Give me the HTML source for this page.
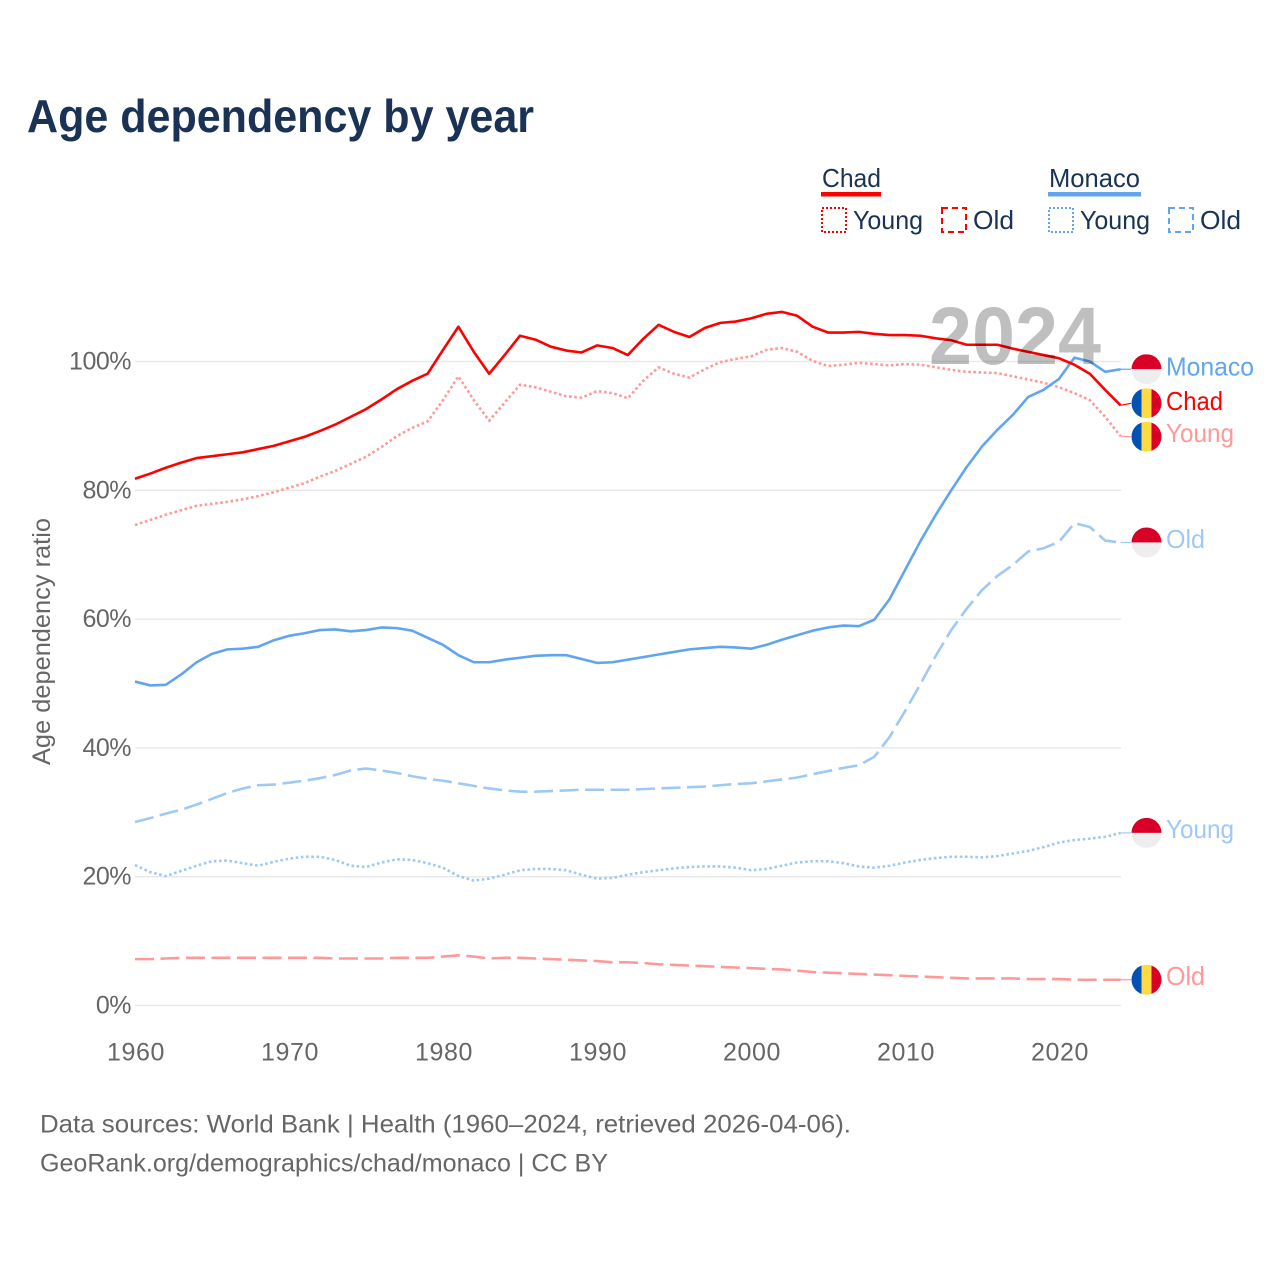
<!DOCTYPE html>
<html lang="en">
<head>
<meta charset="utf-8">
<title>Age dependency by year</title>
<style>
html,body{margin:0;padding:0;background:#fff;}
svg{display:block;font-family:"Liberation Sans",sans-serif;}
.navy{fill:#1a3254;}
.grey{fill:#666;}
</style>
</head>
<body>
<svg id="chart" xmlns="http://www.w3.org/2000/svg" width="1280" height="1280" viewBox="0 0 1280 1280">
  <defs>
    <clipPath id="flag-clip"><circle cx="0" cy="0" r="15"></circle></clipPath>
  </defs>
  <rect width="1280" height="1280" fill="#fff"></rect>
  <text x="27" y="132" font-size="46" font-weight="700" class="navy" textLength="507" lengthAdjust="spacingAndGlyphs">Age dependency by year</text>

  <g>
    <g>
      <text x="822" y="187" font-size="26" class="navy" textLength="59" lengthAdjust="spacingAndGlyphs">Chad</text>
      <rect x="821" y="192" width="60" height="4.5" fill="#ff0000"></rect>
    </g>
    <g>
      <rect x="822" y="208" width="24" height="24" fill="none" stroke="#ff0000" stroke-width="2" stroke-dasharray="2 2"></rect>
      <text x="853" y="229" font-size="26" class="navy" textLength="70" lengthAdjust="spacingAndGlyphs">Young</text>
    </g>
    <g>
      <rect x="942" y="208" width="24" height="24" fill="none" stroke="#ff0000" stroke-width="2" stroke-dasharray="6 4"></rect>
      <text x="973" y="229" font-size="26" class="navy" textLength="41" lengthAdjust="spacingAndGlyphs">Old</text>
    </g>
    <g>
      <text x="1049" y="187" font-size="26" class="navy" textLength="91" lengthAdjust="spacingAndGlyphs">Monaco</text>
      <rect x="1048" y="192" width="93" height="4.5" fill="#60a5ee"></rect>
    </g>
    <g>
      <rect x="1049" y="208" width="24" height="24" fill="none" stroke="#60a5ee" stroke-width="2" stroke-dasharray="2 2"></rect>
      <text x="1080" y="229" font-size="26" class="navy" textLength="70" lengthAdjust="spacingAndGlyphs">Young</text>
    </g>
    <g>
      <rect x="1169" y="208" width="24" height="24" fill="none" stroke="#60a5ee" stroke-width="2" stroke-dasharray="6 4"></rect>
      <text x="1200" y="229" font-size="26" class="navy" textLength="41" lengthAdjust="spacingAndGlyphs">Old</text>
    </g>
  </g>

  <g id="grid"></g>
  <g id="yticks"></g>
  <g id="xticks"></g>
  <text transform="translate(50,641.5) rotate(-90)" text-anchor="middle" font-size="25" class="grey" textLength="247" lengthAdjust="spacingAndGlyphs">Age dependency ratio</text>
  <g id="series"></g>
  <text x="929" y="364" font-size="82" font-weight="700" fill="#000" fill-opacity="0.25" textLength="172" lengthAdjust="spacingAndGlyphs">2024</text>
  <g id="endlabels"></g>

  <text x="40" y="1132.5" font-size="25" class="grey" textLength="811" lengthAdjust="spacingAndGlyphs">Data sources: World Bank | Health (1960–2024, retrieved 2026-04-06).</text>
  <text x="40" y="1171.5" font-size="25" class="grey" textLength="568" lengthAdjust="spacingAndGlyphs">GeoRank.org/demographics/chad/monaco | CC BY</text>
</svg>
<script>
const years = [
  1960,1961,1962,1963,1964,1965,1966,1967,1968,1969,
  1970,1971,1972,1973,1974,1975,1976,1977,1978,1979,
  1980,1981,1982,1983,1984,1985,1986,1987,1988,1989,
  1990,1991,1992,1993,1994,1995,1996,1997,1998,1999,
  2000,2001,2002,2003,2004,2005,2006,2007,2008,2009,
  2010,2011,2012,2013,2014,2015,2016,2017,2018,2019,
  2020,2021,2022,2023,2024
];
const chadTotal = [
  81.8,82.6,83.5,84.3,85.0,85.3,85.6,85.9,86.4,86.9,
  87.6,88.3,89.2,90.2,91.4,92.6,94.1,95.7,97.0,98.1,
  101.8,105.4,101.5,98.1,101.0,104.0,103.4,102.3,101.7,101.4,
  102.5,102.1,101.0,103.5,105.7,104.6,103.8,105.2,106.0,106.2,
  106.7,107.4,107.7,107.1,105.4,104.5,104.5,104.6,104.3,104.1,
  104.1,104.0,103.6,103.3,102.6,102.6,102.6,102.0,101.5,101.0,
  100.5,99.5,98.1,95.6,93.2
];
const chadYoung = [
  74.6,75.4,76.2,76.9,77.6,77.9,78.2,78.6,79.1,79.7,
  80.4,81.1,82.1,83.0,84.1,85.2,86.7,88.4,89.7,90.7,
  94.0,97.7,94.0,90.8,93.6,96.4,96.0,95.3,94.6,94.4,
  95.4,95.1,94.3,97.0,99.1,98.1,97.5,98.8,99.9,100.4,
  100.8,101.8,102.1,101.5,100.1,99.3,99.5,99.8,99.6,99.4,
  99.6,99.5,99.1,98.7,98.4,98.3,98.2,97.7,97.2,96.7,
  96.0,95.1,94.0,91.4,88.4
];
const chadOld = [
  7.2,7.2,7.3,7.4,7.4,7.4,7.4,7.4,7.4,7.4,
  7.4,7.4,7.4,7.3,7.3,7.3,7.3,7.4,7.4,7.4,
  7.6,7.8,7.6,7.3,7.4,7.4,7.3,7.2,7.1,7.0,
  6.9,6.7,6.7,6.6,6.4,6.3,6.2,6.1,6.0,5.9,
  5.8,5.7,5.6,5.4,5.2,5.1,5.0,4.9,4.8,4.7,
  4.6,4.5,4.4,4.3,4.2,4.2,4.2,4.2,4.1,4.1,
  4.1,4.0,4.0,4.0,4.0
];
const monacoTotal = [
  50.3,49.7,49.8,51.4,53.3,54.6,55.3,55.4,55.7,56.7,
  57.4,57.8,58.3,58.4,58.1,58.3,58.7,58.6,58.2,57.1,
  56.0,54.4,53.3,53.3,53.7,54.0,54.3,54.4,54.4,53.8,
  53.2,53.3,53.7,54.1,54.5,54.9,55.3,55.5,55.7,55.6,
  55.4,56.0,56.8,57.5,58.2,58.7,59.0,58.9,59.9,63.1,
  67.6,72.1,76.2,80.0,83.6,86.8,89.4,91.7,94.5,95.6,
  97.3,100.6,100.0,98.4,98.8
];
const monacoYoung = [
  21.8,20.7,20.1,20.9,21.7,22.4,22.5,22.1,21.7,22.3,
  22.8,23.1,23.1,22.6,21.7,21.5,22.2,22.7,22.6,22.1,
  21.4,20.1,19.4,19.7,20.3,21.0,21.2,21.2,21.0,20.3,
  19.7,19.8,20.3,20.7,21.0,21.3,21.5,21.6,21.6,21.4,
  21.0,21.2,21.7,22.2,22.4,22.4,22.1,21.6,21.4,21.7,
  22.2,22.6,22.9,23.1,23.1,23.0,23.2,23.6,24.0,24.6,
  25.3,25.7,25.9,26.2,26.8
];
const monacoOld = [
  28.5,29.1,29.8,30.4,31.2,32.1,33.0,33.7,34.2,34.3,
  34.6,34.9,35.3,35.8,36.5,36.8,36.5,36.1,35.6,35.2,
  34.9,34.5,34.1,33.7,33.4,33.2,33.2,33.3,33.4,33.5,
  33.5,33.5,33.5,33.6,33.7,33.8,33.9,34.0,34.2,34.4,
  34.5,34.8,35.1,35.4,35.9,36.4,36.9,37.3,38.6,41.7,
  45.7,49.9,54.3,58.3,61.6,64.5,66.7,68.4,70.5,71.0,
  72.0,74.9,74.3,72.2,71.9
];
const yTickValues = [0,20,40,60,80,100];
const yTickLabels = ["0%","20%","40%","60%","80%","100%"];
const xTickValues = [1960,1970,1980,1990,2000,2010,2020];
const xTickLabels = ["1960","1970","1980","1990","2000","2010","2020"];

const NS = "http://www.w3.org/2000/svg";
function x(year){ return 135 + (year - 1960) * 15.4; }
function y(value){ return 1005.5 - value * 6.44; }
function make(tag, attrs, parent){
  const el = document.createElementNS(NS, tag);
  for (const k in attrs) el.setAttribute(k, attrs[k]);
  parent.appendChild(el);
  return el;
}

const grid = document.getElementById("grid");
const yticks = document.getElementById("yticks");
yTickValues.forEach(function(v, i){
  const line = make("line", {x1:135, x2:1121, y1:y(v), y2:y(v), stroke:"#e9e9e9", "stroke-width":1.5}, grid);
  
  
  const t = make("text", {x:131, y:y(v) + 8, "text-anchor":"end", "font-size":25, fill:"#666", "letter-spacing":"-0.5"}, yticks);
  t.textContent = yTickLabels[i];
  
  
});

const xticks = document.getElementById("xticks");
xTickValues.forEach(function(v, i){
  const t = make("text", {x:x(v) + 1, y:1060.5, "text-anchor":"middle", "font-size":25, fill:"#666", "letter-spacing":"0.6"}, xticks);
  t.textContent = xTickLabels[i];
  
  
});

const SOLID = "none", DOT = "2.6 2.6", DASH = "19 6.5";
const RED = "#ff0000", PINK = "#ff9999", BLUE = "#60a5ee", SKY = "#9fc9f5";
const seriesList = [
  {id:"monaco-old", values:monacoOld, color:SKY, dash:DASH, label:"Old", width:39, flag:"monaco", dodge:0, labelShift:5.5},
  {id:"monaco-young", values:monacoYoung, color:SKY, dash:DOT, label:"Young", width:68, flag:"monaco", dodge:0, labelShift:5},
  {id:"chad-old", values:chadOld, color:PINK, dash:DASH, label:"Old", width:39, flag:"chad", dodge:0, labelShift:5.5},
  {id:"chad-young", values:chadYoung, color:PINK, dash:DOT, label:"Young", width:68, flag:"chad", dodge:0.5, labelShift:5.5},
  {id:"monaco-total", values:monacoTotal, color:BLUE, dash:SOLID, label:"Monaco", width:88, flag:"monaco", dodge:0, labelShift:6.5},
  {id:"chad-total", values:chadTotal, color:RED, dash:SOLID, label:"Chad", width:57, flag:"chad", dodge:-2, labelShift:6.5}
];

const seriesGroup = document.getElementById("series");
const endLabels = document.getElementById("endlabels");
seriesList.forEach(function(s){
  const d = s.values.map(function(v, i){ return (i ? "L" : "M") + x(years[i]).toFixed(2) + " " + y(v).toFixed(2); }).join(" ");
  const path = make("path", {d:d, fill:"none", stroke:s.color, "stroke-width":2.6, "stroke-linejoin":"round", "stroke-dasharray":s.dash}, seriesGroup);
  
  

  const endX = x(years[years.length - 1]);
  const endY = y(s.values[s.values.length - 1]);
  const cy = endY + s.dodge;
  const conn = make("line", {x1:endX, y1:endY, x2:1131, y2:cy, stroke:s.color, "stroke-width":1.2}, endLabels);
  
  

  const g = make("g", {transform:"translate(1146.5," + cy.toFixed(2) + ")"}, endLabels);
  
  
  const inner = make("g", {"clip-path":"url(#flag-clip)"}, g);
  if (s.flag === "chad") {
    make("rect", {x:-15, y:-15, width:10, height:30, fill:"#0052b4"}, inner);
    make("rect", {x:-5, y:-15, width:10, height:30, fill:"#ffda44"}, inner);
    make("rect", {x:5, y:-15, width:10, height:30, fill:"#d80027"}, inner);
  } else {
    make("rect", {x:-15, y:-15, width:30, height:15, fill:"#d80027"}, inner);
    make("rect", {x:-15, y:0, width:30, height:15, fill:"#eeeeee"}, inner);
  }

  const t = make("text", {x:1166, y:(cy + s.labelShift).toFixed(2), "font-size":26, fill:s.color, textLength:s.width, lengthAdjust:"spacingAndGlyphs"}, endLabels);
  t.textContent = s.label;
  
  
});
</script>
</body>
</html>
